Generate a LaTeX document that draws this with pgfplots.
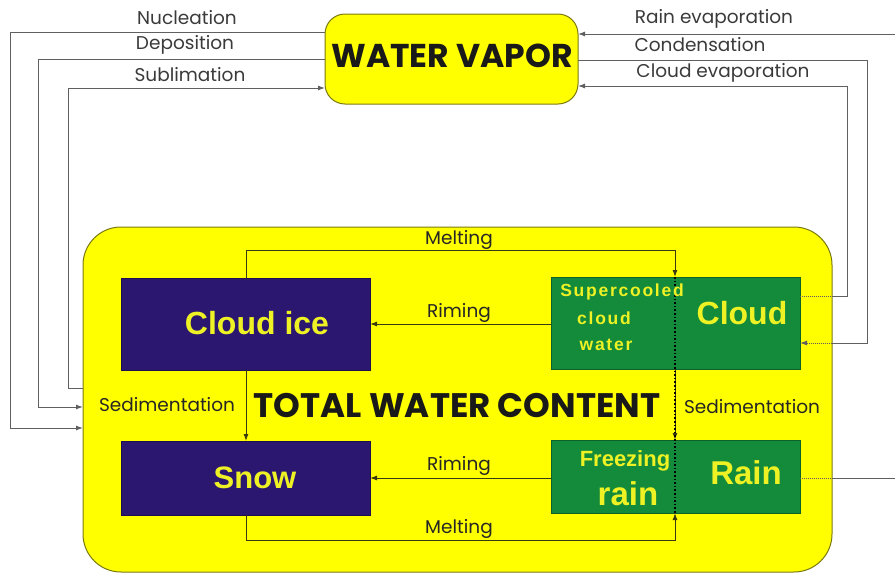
\documentclass[border=0pt]{standalone}
\usepackage{pgfplots}
\pgfplotsset{compat=1.18}
\usepackage{fontspec}
\setmainfont{Poppins}
\newfontfamily\boxfont{Liberation Sans}
\newfontfamily\spacedfont{Liberation Sans}[LetterSpace=10]
\usetikzlibrary{arrows.meta}

\definecolor{vapfill}{HTML}{FFFF00}
\definecolor{twcfill}{HTML}{FFFF00}
\definecolor{icebox}{HTML}{2B1670}
\definecolor{liqbox}{HTML}{138B3B}
\definecolor{boxtext}{HTML}{EEF224}
\definecolor{edge}{HTML}{7A7A10}
\definecolor{outerline}{HTML}{606060}
\definecolor{innerline}{HTML}{3A3A10}
\definecolor{labeltext}{HTML}{3A3A3A}

\begin{document}
\begin{tikzpicture}
\begin{axis}[
    width=895pt, height=574pt, scale only axis,
    xmin=0, xmax=895, ymin=0, ymax=574,
    y dir=reverse, axis lines=none, clip=false,
    every axis plot/.append style={line width=1pt},
    arr/.style={-{Latex[length=7pt,width=5pt]}},
  ]
  % boxes
  \addplot[draw=edge, fill=twcfill, rounded corners=38pt]
    coordinates {(450,227)(832,227)(832,572)(83,572)(83,227)(450,227)};
  \addplot[draw=edge, fill=vapfill, rounded corners=20pt]
    coordinates {(450,14)(578,14)(578,104)(325,104)(325,14)(450,14)};
  \addplot[draw=icebox!70!black, fill=icebox] coordinates {(121,278)(370,278)(370,370)(121,370)(121,278)};
  \addplot[draw=icebox!70!black, fill=icebox] coordinates {(121,441)(370,441)(370,515)(121,515)(121,441)};
  \addplot[draw=liqbox!70!black, fill=liqbox] coordinates {(551,277)(800,277)(800,369)(551,369)(551,277)};
  \addplot[draw=liqbox!70!black, fill=liqbox] coordinates {(551,440)(800,440)(800,513)(551,513)(551,440)};

  % outer connections, left
  \addplot[outerline, arr] coordinates {(325,32)(10,32)(10,428)(83,428)};
  \addplot[outerline, arr] coordinates {(325,59)(38,59)(38,407)(83,407)};
  \addplot[outerline, arr] coordinates {(83,388)(68,388)(68,88)(325,88)};
  % outer connections, right
  \addplot[outerline, densely dotted] coordinates {(800,478)(832,478)};
  \addplot[outerline] coordinates {(832,478)(895,478)};
  \addplot[outerline, arr] coordinates {(895,34)(578,34)};
  \addplot[outerline] coordinates {(578,60)(867,60)(867,343)(832,343)};
  \addplot[outerline, densely dotted, arr] coordinates {(832,343)(800,343)};
  \addplot[outerline, densely dotted] coordinates {(800,296)(832,296)};
  \addplot[outerline, arr] coordinates {(832,296)(847,296)(847,86)(578,86)};

  % inner connections
  \addplot[innerline, arr] coordinates {(246,278)(246,250)(675,250)(675,277)};
  \addplot[innerline, arr] coordinates {(551,324)(370,324)};
  \addplot[innerline, arr] coordinates {(246,370)(246,441)};
  \addplot[innerline, arr] coordinates {(675,369)(675,440)};
  \addplot[innerline, arr] coordinates {(551,478)(370,478)};
  \addplot[innerline, arr] coordinates {(246,515)(246,540)(675,540)(675,513)};
  \addplot[black, line width=1.6pt, dotted] coordinates {(675,277)(675,513)};

  % labels
  \begin{scope}[every node/.style={font=\fontsize{18.5}{20}\selectfont, text=labeltext, inner sep=0pt}]
    \node at (axis cs:187,18) {Nucleation};
    \node at (axis cs:185,45) {Deposition};
    \node at (axis cs:190,75) {Sublimation};
    \node at (axis cs:714,19) {Rain evaporation};
    \node at (axis cs:700,45) {Condensation};
    \node at (axis cs:723,73) {Cloud evaporation};
  \end{scope}
  \begin{scope}[every node/.style={font=\fontsize{18.5}{20}\selectfont, text=black!85, inner sep=0pt}]
    \node at (axis cs:459,240) {Melting};
    \node at (axis cs:459,313) {Riming};
    \node at (axis cs:459,466) {Riming};
    \node at (axis cs:459,529) {Melting};
    \node at (axis cs:167,405) {Sedimentation};
    \node at (axis cs:752,407) {Sedimentation};
  \end{scope}

  \node[text=black!90] at (axis cs:452,56) {\fontsize{33}{36}\selectfont\bfseries WATER VAPOR};
  \node[text=black!90] at (axis cs:457,406) {\fontsize{34}{36}\selectfont\bfseries TOTAL WATER CONTENT};

  \begin{scope}[every node/.style={text=boxtext}]
    \node at (axis cs:257,323) {\boxfont\bfseries\fontsize{32}{34}\selectfont Cloud ice};
    \node at (axis cs:255,478) {\boxfont\bfseries\fontsize{31}{34}\selectfont Snow};
    \node at (axis cs:742,313) {\boxfont\bfseries\fontsize{32}{34}\selectfont Cloud};
    \node at (axis cs:746,473) {\boxfont\bfseries\fontsize{33}{35}\selectfont Rain};
    \node at (axis cs:622,292) {\spacedfont\bfseries\fontsize{17.5}{19}\selectfont Supercooled};
    \node at (axis cs:604,318) {\spacedfont\bfseries\fontsize{17.5}{19}\selectfont cloud};
    \node at (axis cs:606,345) {\spacedfont\bfseries\fontsize{17.5}{19}\selectfont water};
    \node at (axis cs:625,461) {\boxfont\bfseries\fontsize{22}{24}\selectfont Freezing};
    \node at (axis cs:628,494) {\boxfont\bfseries\fontsize{33}{35}\selectfont rain};
  \end{scope}
\end{axis}
\pgfresetboundingbox
\useasboundingbox (0,0) rectangle (895pt,574pt);
\end{tikzpicture}
\end{document}
